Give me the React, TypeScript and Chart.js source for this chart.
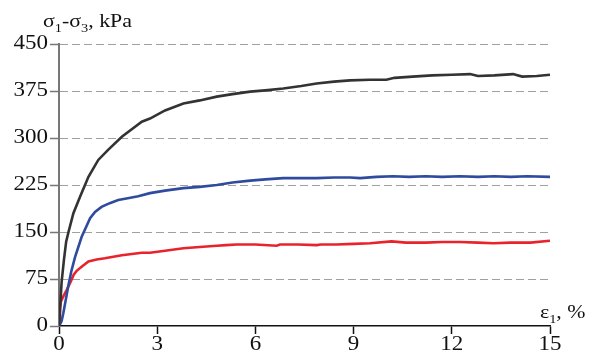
import React, { useEffect, useRef } from "react";
import { Chart, registerables } from "chart.js";

Chart.register(...registerables);

const xTickValues = [0, 3, 6, 9, 12, 15];
const yTickValues = [0, 75, 150, 225, 300, 375, 450];

const blackX = [0, 0.04, 0.08, 0.15, 0.22, 0.3, 0.44, 0.64, 0.9, 1.2, 1.5, 1.92, 2.53, 2.78, 3.24, 3.8, 4.3, 4.82, 5.3, 5.84, 6.3, 6.85, 7.4, 7.87, 8.4, 8.89, 9.5, 10.0, 10.25, 10.8, 11.4, 12.0, 12.56, 12.8, 13.3, 13.87, 14.15, 14.6, 15];
const blackY = [0, 35, 70, 105, 135, 152, 180, 206, 238, 265, 281, 302, 326, 331, 344, 355, 360, 366, 370, 374, 376, 379, 383, 387, 390, 392, 393, 393, 396, 398, 400, 401, 402, 399, 400, 402, 398, 399, 401];

const blueX = [0, 0.08, 0.13, 0.2, 0.28, 0.38, 0.49, 0.69, 0.95, 1.1, 1.3, 1.55, 1.81, 2.1, 2.42, 2.78, 3.24, 3.8, 4.3, 4.82, 5.3, 5.84, 6.3, 6.85, 7.4, 7.87, 8.4, 8.89, 9.2, 9.7, 10.2, 10.7, 11.2, 11.7, 12.25, 12.8, 13.3, 13.8, 14.3, 15];
const blueY = [0, 8, 20, 40, 63, 88, 110, 142, 172, 182, 190, 196, 201, 204, 207, 212, 216, 220, 222, 225, 229, 232, 234, 236, 236, 236, 237, 237, 236, 238, 239, 238, 239, 238, 239, 238, 239, 238, 239, 238];

const redX = [0, 0.03, 0.06, 0.12, 0.23, 0.35, 0.45, 0.54, 0.7, 0.9, 1.15, 1.4, 1.92, 2.53, 2.78, 3.24, 3.8, 4.3, 4.82, 5.1, 5.43, 6.0, 6.65, 6.75, 7.3, 7.87, 8.0, 8.48, 9.0, 9.5, 10.16, 10.6, 11.2, 11.7, 12.25, 12.8, 13.27, 13.8, 14.4, 15];
const redY = [5, 28, 39, 46, 57, 70, 82, 88, 95, 103, 106, 108, 113, 117, 117, 120, 124, 126, 128, 129, 130, 130, 128, 130, 130, 129, 130, 130, 131, 132, 135, 133, 133, 134, 134, 133, 132, 133, 133, 136];

const yTitle: [string, boolean][] = [["σ", false], ["1", true], ["-σ", false], ["3", true], [", kPa", false]];
const xTitle: [string, boolean][] = [["ε", false], ["1", true], [", %", false]];

const FONT = "'Liberation Serif', 'Times New Roman', serif";
const SX = 1.15;

function pts(xs: number[], ys: number[]) {
  return xs.map((x, i) => ({ x, y: ys[i] }));
}

function drawText(ctx: CanvasRenderingContext2D, text: string, x: number, y: number, size: number, align: CanvasTextAlign, baseline: CanvasTextBaseline) {
  ctx.save();
  ctx.font = `${size}px ${FONT}`;
  ctx.textAlign = align;
  ctx.textBaseline = baseline;
  ctx.fillStyle = "#111";
  ctx.translate(x, y);
  ctx.scale(SX, 1);
  ctx.fillText(text, 0, 0);
  ctx.restore();
}

function drawRich(ctx: CanvasRenderingContext2D, parts: [string, boolean][], x: number, y: number) {
  let cx = x;
  for (const [t, sub] of parts) {
    const size = sub ? 12.5 : 19;
    const by = sub ? y + 5 : y;
    ctx.save();
    ctx.font = `${size}px ${FONT}`;
    const w = ctx.measureText(t).width * SX;
    ctx.restore();
    drawText(ctx, t, cx, by, size, "left", "alphabetic");
    cx += w;
  }
}

const textPlugin = {
  id: "customText",
  afterDraw(chart: any) {
    const ctx = chart.ctx as CanvasRenderingContext2D;
    const xs = chart.scales.x;
    const ys = chart.scales.y;
    for (const v of yTickValues) {
      drawText(ctx, String(v), 48, ys.getPixelForValue(v), 20, "right", "middle");
    }
    for (const v of xTickValues) {
      drawText(ctx, String(v), xs.getPixelForValue(v), 335, 20, "center", "top");
    }
    drawRich(ctx, yTitle, 43, 27);
    drawRich(ctx, xTitle, 540, 318);
  },
};

export default function App() {
  const ref = useRef<HTMLCanvasElement>(null);
  useEffect(() => {
    document.body.style.margin = "0";
    const canvas = ref.current!;
    const chart = new Chart(canvas, {
      type: "scatter",
      data: {
        datasets: [
          { data: pts(blackX, blackY), borderColor: "#333333", borderWidth: 2.6, showLine: true, pointRadius: 0, tension: 0 },
          { data: pts(blueX, blueY), borderColor: "#2f4b9e", borderWidth: 2.6, showLine: true, pointRadius: 0, tension: 0 },
          { data: pts(redX, redY), borderColor: "#e8232b", borderWidth: 2.6, showLine: true, pointRadius: 0, tension: 0 },
        ],
      },
      options: {
        animation: false,
        responsive: false,
        devicePixelRatio: 1,
        layout: { padding: { top: 44, right: 46, left: 0, bottom: 0 } },
        plugins: { legend: { display: false }, tooltip: { enabled: false } },
        scales: {
          x: {
            type: "linear",
            min: 0,
            max: 15,
            afterBuildTicks: (s: any) => { s.ticks = xTickValues.map((value) => ({ value })); },
            afterFit: (s: any) => { s.height = 33; },
            ticks: { display: false },
            grid: { drawOnChartArea: false, drawTicks: true, tickLength: 8, tickColor: "#111", tickWidth: 1.5 },
            border: { display: true, color: "#111", width: 1.5 },
          },
          y: {
            type: "linear",
            min: 0,
            max: 450,
            afterBuildTicks: (s: any) => { s.ticks = yTickValues.map((value) => ({ value })); },
            afterFit: (s: any) => { s.width = 59; },
            ticks: { display: false },
            grid: {
              color: (c: any) => (c.tick && c.tick.value === 0 ? "rgba(0,0,0,0)" : "#a0a0a0"),
              lineWidth: 1,
              drawTicks: true,
              tickLength: 9,
              tickColor: "#777777",
              tickWidth: 1.5,
              tickBorderDash: [],
            },
            border: { display: true, color: "#777777", width: 2, dash: [8, 4] },
          },
        },
      },
      plugins: [textPlugin],
    });
    if ((document as any).fonts && (document as any).fonts.load) {
      Promise.all([
        (document as any).fonts.load("20px 'Liberation Serif'"),
        (document as any).fonts.load("12px 'Liberation Serif'"),
      ]).then(() => { try { chart.draw(); } catch (e) {} }).catch(() => {});
    }
    return () => chart.destroy();
  }, []);
  return (
    <div style={{ width: 596, height: 359 }}>
      <canvas ref={ref} width={596} height={359} />
    </div>
  );
}
